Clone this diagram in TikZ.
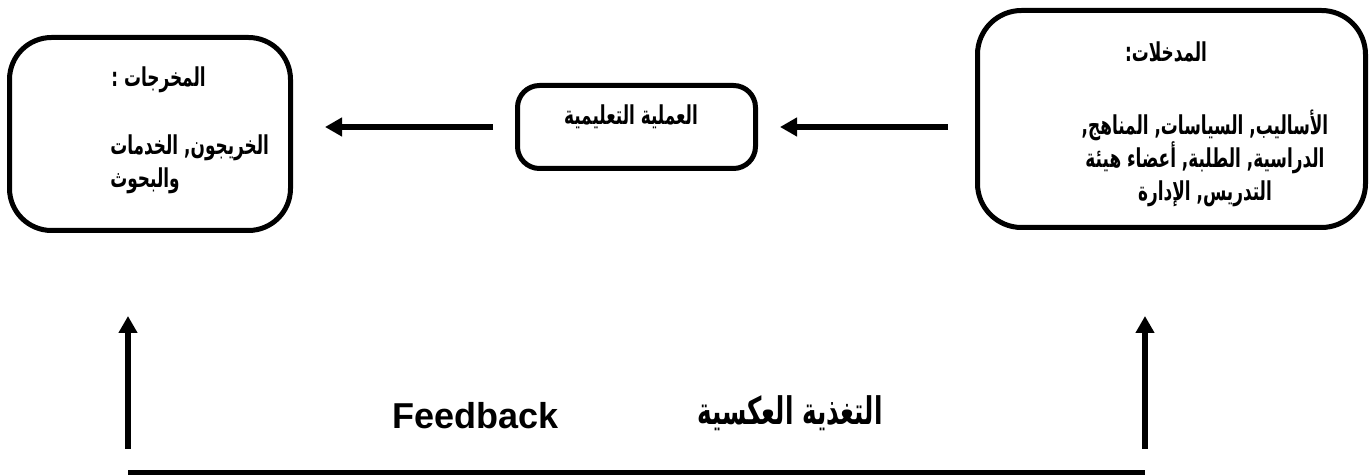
\documentclass[tikz,border=0pt]{standalone}
\usepackage{fontspec}
\setmainfont{Liberation Sans}
\newfontfamily\arabicfont[Script=Arabic, FakeStretch=0.65]{DejaVu Sans}
\TeXXeTstate=1
\usetikzlibrary{arrows.meta}
\begin{document}
\begin{tikzpicture}[x=0.5pt,y=-0.5pt,
  box/.style={draw, line width=2.5pt, rounded corners=#1, inner sep=0pt},
  box/.default=20pt,
  atext/.style={inner sep=0pt, font=\arabicfont\bfseries\fontsize{13}{16.5}\selectfont},
  flow/.style={line width=3pt, -{Triangle[length=8.5pt,width=9pt]}},
  base/.style={line width=4pt}
]
\clip (0,0) rectangle (1372,475);

% the three stages
\node[box=22pt, minimum width=194pt, minimum height=108.5pt] (in) at (1171.5,119) {};
\node[box=11pt, minimum width=119pt, minimum height=41.5pt] (proc) at (636.5,127) {};
\node[box=21pt, minimum width=140.5pt, minimum height=96.5pt] (out) at (150,134) {};

% inputs (a multi-line node sits on the baseline of its last line)
\node[atext, anchor=base] (inT) at (1166,62) {\beginR المدخلات:\endR};
\node[atext, anchor=base, align=center] (inB) at (1205,201)
  {\beginR الأساليب, السياسات, المناهج,\endR\\
   \beginR الدراسية, الطلبة, أعضاء هيئة\endR\\
   \beginR التدريس, الإدارة\endR};

% process
\node[atext, anchor=base] (procT) at (631,125) {\beginR العملية التعليمية\endR};

% outputs
\node[atext, anchor=base west] (outT) at (111,87) {\beginR المخرجات :\endR};
\node[atext, anchor=base west, align=left] (outB) at (110,188)
  {\beginR الخريجون, الخدمات\endR\\
   \beginR والبحوث\endR};

% forward flow
\draw[flow, shorten <=13.5pt, shorten >=11pt] (in.west |- proc.east) -- (proc.east);
\draw[flow, shorten <=11pt, shorten >=16pt] (proc.west) -- (proc.west -| out.east);

% feedback loop
\coordinate (fbL) at (128,449);
\coordinate (fbR) at (1145,449);
\coordinate (upL) at (128,316);
\coordinate (upR) at (1145,316);
\coordinate (baseL) at (128,474);
\coordinate (baseR) at (1145,474);
\draw[flow] (fbL) -- (upL);
\draw[flow] (fbR) -- (upR);
\draw[base] (baseL) -- (baseR);

\node[inner sep=0pt, anchor=base west, font=\bfseries\fontsize{18}{21}\selectfont] (fbEn) at (392,429) {Feedback};
\node[inner sep=0pt, anchor=base west, font=\arabicfont\bfseries\fontsize{19}{22}\selectfont] (fbAr) at (697,425) {\beginR التغذية العكسية\endR};
\end{tikzpicture}
\end{document}
